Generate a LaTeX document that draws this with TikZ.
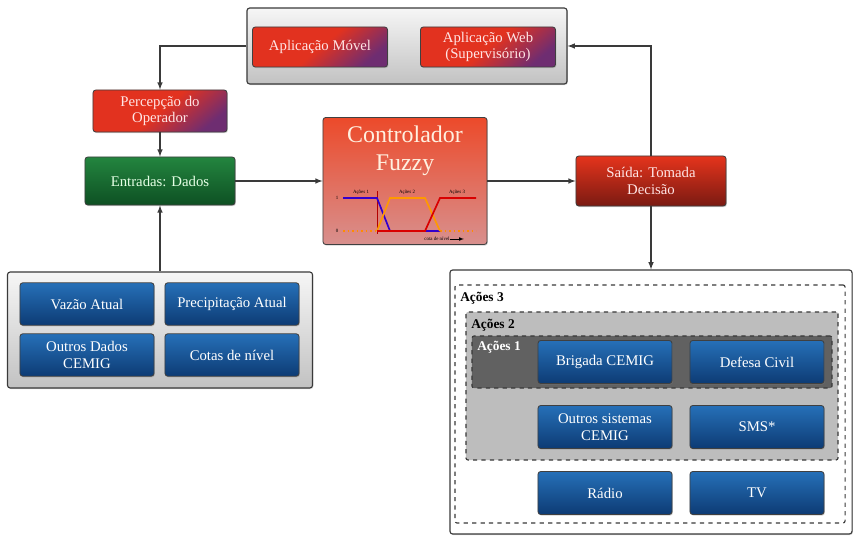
\documentclass[tikz,border=0pt]{standalone}
\usepackage{fontspec}
\setmainfont{Liberation Serif}
\usetikzlibrary{positioning,shadows,arrows}

\definecolor{appRed}{HTML}{E2321F}
\definecolor{appPurple}{HTML}{5A2C80}
\definecolor{outRed}{HTML}{E5341C}
\definecolor{outDark}{HTML}{7A1A12}
\definecolor{inGreen}{HTML}{23853F}
\definecolor{inGreenDark}{HTML}{0E5023}
\definecolor{fzTop}{HTML}{EC4A2A}
\definecolor{fzBot}{HTML}{D8908E}
\definecolor{boxBlue}{HTML}{2670B8}
\definecolor{boxBlueDark}{HTML}{0D3B74}
\definecolor{frameTop}{HTML}{F6F6F6}
\definecolor{frameBot}{HTML}{C2C2C2}
\definecolor{lineGrey}{HTML}{3A3A3A}

\begin{document}
\begin{tikzpicture}
 [x=0.025cm,y=-0.025cm,
% Frame style
    frame/.style={rectangle,rounded corners=2pt,draw=lineGrey,thick,
        top color=frameTop,bottom color=frameBot,inner sep=0pt,
        drop shadow={opacity=0.3,shadow xshift=0.6pt,shadow yshift=-0.8pt}},
% Box styles
    box/.style={rectangle,rounded corners=2pt,draw=black!75,semithick,
        align=center,inner sep=1pt,font=\fontsize{10.5}{12}\selectfont,
        drop shadow={opacity=0.35,shadow xshift=0.6pt,shadow yshift=-0.8pt}},
    redbox/.style={box,left color=appRed,right color=appPurple!85!appRed,
        middle color=appRed,shading angle=40,text=white!90!red,
        minimum width=3.375cm,minimum height=1.0cm},
    outbox/.style={box,top color=outRed,bottom color=outDark,text=white!90!red,
        minimum width=3.75cm,minimum height=1.25cm},
    greenbox/.style={box,top color=inGreen,bottom color=inGreenDark,text=white!90!green,
        minimum width=3.75cm,minimum height=1.2cm},
    bluebox/.style={box,top color=boxBlue,bottom color=boxBlueDark,text=white,
        minimum width=3.35cm,minimum height=1.06cm},
% Action group style
    group/.style={rectangle,rounded corners=1.5pt,draw=lineGrey,dashed,thick,inner sep=0pt},
    grouplabel/.style={anchor=north west,inner sep=1pt,font=\fontsize{9.5}{10}\selectfont\bfseries},
% Connector style
    link/.style={draw=lineGrey,thick,-latex},
% Chart style
    tiny/.style={font=\fontsize{3.5}{4}\selectfont,inner sep=0pt},
    curve/.style={line width=1.2pt}
    ]
\useasboundingbox (0,0) rectangle (853,536);
%% Draw frames and boxes
 \node (apps) [frame,minimum width=8cm,minimum height=1.9cm] at (407,46) {};
 \node (movel) [redbox] at (320,47) {Aplicação Móvel};
 \node (web) [redbox] at (488,47) {Aplicação Web\\(Supervisório)};
 \node (perc) [redbox,minimum width=3.35cm,minimum height=1.05cm] at (160,111) {Percepção do\\Operador};
 \node (entr) [greenbox] at (160,181) {Entradas: Dados};
 \node (fuzzy) [box,top color=fzTop,bottom color=fzBot,minimum width=4.1cm,
     minimum height=3.175cm] at (405,181) {};
 \node (fztitle) [text=white!88!orange,font=\fontsize{17}{20}\selectfont,align=center,
     anchor=north] at (405,121) {Controlador\\Fuzzy};
 \node (saida) [outbox] at (651,181) {Saída: Tomada\\Decisão};

% Input data
 \node (dados) [frame,minimum width=7.625cm,minimum height=2.9cm] at (160,330) {};
 \node (vazao) [bluebox] at (87,304) {Vazão Atual};
 \node (prec) [bluebox] at (232,304) {Precipitação Atual};
 \node (outros) [bluebox] at (87,355) {Outros Dados\\CEMIG};
 \node (cotas) [bluebox] at (232,355) {Cotas de nível};

% Actions
 \node (acoes) [frame,top color=white,bottom color=white,minimum width=10.05cm,
     minimum height=6.6cm] at (651,402) {};
 \node (a3) [group,fill=white,minimum width=9.75cm,minimum height=5.95cm] at (650,404) {};
 \node (a2) [group,fill=black!26,minimum width=9.3cm,minimum height=3.7cm] at (652,386) {};
 \node (a1) [group,fill=black!62,minimum width=9.0cm,minimum height=1.3cm] at (652,362) {};
 \node (l3) [grouplabel] at ([xshift=3pt,yshift=-4pt]a3.north west) {Ações 3};
 \node (l2) [grouplabel] at ([xshift=3pt,yshift=-4pt]a2.north west) {Ações 2};
 \node (l1) [grouplabel,text=white] at ([xshift=3pt,yshift=-3pt]a1.north west) {Ações 1};
 \node (brig) [bluebox,minimum height=1.075cm] at (605,362) {Brigada CEMIG};
 \node (defesa) [bluebox,minimum height=1.075cm] at (757,362) {Defesa Civil};
 \node (sist) [bluebox,minimum height=1.075cm] at (605,427) {Outros sistemas\\CEMIG};
 \node (sms) [bluebox,minimum height=1.075cm] at (757,427) {SMS*};
 \node (radio) [bluebox,minimum height=1.075cm] at (605,493) {Rádio};
 \node (tv) [bluebox,minimum height=1.075cm] at (757,493) {TV};

%% Draw connectors
 \draw [link] (apps.west) -| (perc.north);
 \draw [link] (perc) -- (entr);
 \draw [link] (dados.north) -- (entr.south);
 \draw [link] (entr) -- (fuzzy);
 \draw [link] (fuzzy) -- (saida);
 \draw [link] (saida.north) |- (apps.east);
 \draw [link] (saida.south) -- (acoes.north);

%% Fuzzy chart inside the controller
 \draw [red!70!black,very thin] (377,191) -- (377,234);
 \draw [orange!90!yellow,curve,dotted] (343,231) -- (377,231);
 \draw [orange!90!yellow,curve,dotted] (440,231) -- (476,231);
 \draw [blue!60!violet,curve] (343,198) -- (377,198) -- (390,231) -- (440,231);
 \draw [orange!80!yellow,curve] (377,231) -- (390,198) -- (425,198) -- (440,231);
 \draw [red!85!black,curve] (377,231) -- (425,231) -- (440,198) -- (476,198);
 \node (n1) [tiny] at (337,198) {1};
 \node (n0) [tiny] at (337,231) {0};
 \node (t1) [tiny] at (361,192) {Ações 1};
 \node (t2) [tiny] at (407,192) {Ações 2};
 \node (t3) [tiny] at (457,192) {Ações 3};
 \node (tx) [tiny] at (437,239) {cota de nível};
 \draw [black,very thin,-latex] (tx.east) -- ++(14,0);
\end{tikzpicture}
\end{document}
